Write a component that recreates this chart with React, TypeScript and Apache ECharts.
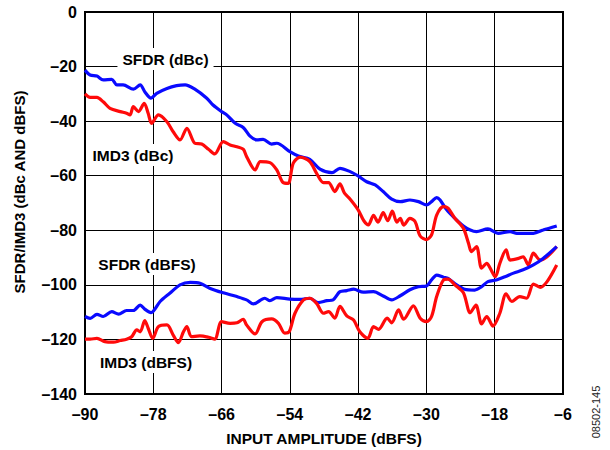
import React, { useEffect, useRef } from "react";
import * as echarts from "echarts";

const xTicks = { min: -90, max: -6, interval: 12 };
const yTicks = { min: -140, max: 0, interval: 20 };

const sfdrDbc: number[][] = [
  [-90, -21.3], [-89.1, -23.1], [-87.9, -23.5], [-86.8, -24.9], [-85.3, -24.7], [-84.4, -26.7], [-83.3, -26.7],
  [-81.5, -28.3], [-80.3, -26.7], [-79.5, -29.2], [-78.4, -31.6], [-77.4, -29.8], [-75.6, -28.0], [-73.9, -27.0],
  [-72.4, -26.7], [-70.7, -28.3], [-68.6, -31.6], [-67.5, -34.1], [-66.0, -36.5], [-65.1, -37.7], [-63.6, -40.8],
  [-62.2, -42.3], [-61.0, -45.5], [-59.8, -46.9], [-58.7, -46.7], [-57.2, -48.4], [-56.3, -48.1], [-54.0, -51.2],
  [-52.5, -52.8], [-50.5, -54.0], [-48.7, -57.6], [-46.6, -58.9], [-45.2, -57.3], [-43.4, -58.5], [-42.0, -60.1],
  [-40.5, -62.2], [-39.0, -63.4], [-37.6, -65.8], [-36.1, -68.6], [-34.6, -69.5], [-32.9, -68.9], [-31.4, -69.5],
  [-30.0, -70.7], [-29.1, -69.5], [-28.2, -68.0], [-27.6, -68.9], [-26.4, -72.6], [-25.0, -75.6], [-23.5, -78.4],
  [-22.3, -79.9], [-21.2, -80.5], [-19.2, -79.5], [-17.4, -81.1], [-15.3, -80.5], [-14.1, -81.1], [-11.2, -81.1],
  [-9.5, -79.9], [-7.1, -78.4],
];

const imd3Dbc: number[][] = [
  [-90, -30.0], [-89.1, -31.3], [-87.9, -31.3], [-86.8, -32.9], [-85.6, -35.3], [-83.8, -36.5], [-82.7, -37.1],
  [-82.1, -37.7], [-81.5, -34.7], [-80.6, -36.5], [-79.6, -33.5], [-78.9, -37.1], [-78.3, -40.8], [-77.1, -37.7],
  [-75.6, -40.2], [-74.5, -43.9], [-73.3, -46.9], [-72.1, -42.6], [-70.7, -48.1], [-69.5, -48.4], [-68.3, -50.3],
  [-67.2, -52.0], [-65.7, -47.5], [-64.5, -48.7], [-63.3, -49.4], [-62.2, -50.3], [-61.6, -53.0], [-60.1, -57.9],
  [-59.2, -54.8], [-57.5, -55.2], [-56.3, -57.9], [-55.2, -62.5], [-54.3, -62.8], [-53.4, -55.4], [-52.2, -53.2],
  [-50.5, -54.8], [-49.3, -59.1], [-48.1, -62.5], [-47.2, -62.5], [-46.1, -65.8], [-45.2, -63.0], [-44.4, -66.4],
  [-43.4, -68.6], [-42.0, -72.5], [-41.0, -76.5], [-40.2, -78.0], [-39.3, -74.5], [-38.5, -77.0], [-37.6, -73.5],
  [-36.8, -76.5], [-36.0, -73.0], [-35.2, -77.0], [-34.6, -75.6], [-34.0, -78.1], [-32.9, -75.6], [-32.0, -76.8],
  [-31.1, -82.1], [-30.0, -83.4], [-29.1, -81.7], [-28.2, -74.4], [-27.0, -71.3], [-26.2, -71.9], [-25.0, -75.6],
  [-23.5, -79.3], [-22.6, -84.8], [-22.1, -87.8], [-21.2, -86.0], [-20.3, -93.9], [-19.4, -92.1], [-18.8, -93.9],
  [-17.9, -97.0], [-17.1, -92.1], [-16.0, -87.2], [-15.3, -90.9], [-13.8, -90.3], [-13.0, -89.7], [-12.1, -92.7],
  [-11.2, -88.4], [-10.0, -90.9], [-8.8, -89.7], [-7.1, -86.0],
];

const sfdrDbfs: number[][] = [
  [-90, -111.6], [-89.1, -112.3], [-87.9, -110.8], [-86.8, -111.6], [-85.3, -109.8], [-84.1, -110.7], [-82.7, -109.4],
  [-81.5, -109.4], [-80.3, -107.4], [-79.5, -108.9], [-78.4, -110.2], [-76.8, -106.1], [-75.1, -103.1], [-73.3, -100.0],
  [-71.5, -99.1], [-69.8, -99.4], [-68.0, -101.3], [-65.7, -102.9], [-63.3, -104.3], [-61.6, -105.5], [-60.4, -107.0],
  [-58.4, -104.9], [-57.5, -105.8], [-56.3, -104.7], [-54.0, -105.2], [-52.2, -105.3], [-50.5, -104.9], [-49.0, -106.5],
  [-47.5, -105.8], [-46.4, -105.5], [-45.2, -102.5], [-44.0, -102.1], [-42.8, -101.6], [-41.1, -102.7], [-39.3, -102.5],
  [-37.6, -104.1], [-36.1, -105.5], [-34.6, -104.0], [-32.9, -101.8], [-31.4, -100.7], [-30.0, -100.4], [-29.1, -98.2],
  [-28.2, -96.4], [-27.0, -97.2], [-26.2, -97.6], [-24.7, -100.0], [-23.3, -101.6], [-21.5, -101.9], [-20.3, -100.7],
  [-19.2, -98.8], [-17.7, -98.2], [-16.2, -97.0], [-14.7, -95.7], [-13.0, -94.5], [-11.2, -92.7], [-9.5, -90.3],
  [-7.1, -86.0],
];

const imd3Dbfs: number[][] = [
  [-90, -119.9], [-89.1, -119.9], [-87.9, -119.6], [-86.5, -120.8], [-85.0, -121.0], [-83.8, -120.4], [-82.7, -119.9],
  [-81.8, -119.0], [-80.9, -116.5], [-80.3, -117.2], [-79.5, -113.1], [-78.9, -115.9], [-78.1, -119.6], [-77.1, -115.3],
  [-75.6, -114.7], [-74.5, -118.4], [-73.6, -121.2], [-72.7, -117.2], [-72.1, -115.3], [-71.3, -119.0], [-69.8, -118.7],
  [-68.3, -119.2], [-67.2, -119.9], [-66.0, -113.5], [-64.5, -114.1], [-63.3, -113.9], [-62.2, -112.6], [-61.6, -114.7],
  [-60.1, -118.0], [-58.9, -113.5], [-57.2, -112.5], [-56.0, -114.1], [-54.9, -117.7], [-54.1, -117.1], [-53.1, -110.4],
  [-51.6, -105.5], [-50.5, -104.9], [-49.3, -106.8], [-48.1, -110.4], [-47.2, -109.8], [-46.1, -112.2], [-45.2, -107.9],
  [-44.0, -111.4], [-42.8, -112.9], [-41.7, -117.2], [-40.3, -119.6], [-39.3, -115.3], [-38.4, -116.3], [-36.9, -112.2],
  [-36.1, -113.9], [-34.9, -109.2], [-34.0, -112.6], [-32.3, -107.7], [-31.1, -112.2], [-30.0, -113.5], [-29.1, -111.6],
  [-28.2, -104.3], [-27.0, -98.2], [-26.2, -97.9], [-25.0, -100.0], [-23.5, -102.9], [-22.3, -110.2], [-21.3, -107.4],
  [-20.3, -114.3], [-19.4, -111.6], [-18.3, -115.1], [-17.1, -110.4], [-16.0, -103.3], [-15.0, -106.1], [-13.6, -104.3],
  [-12.4, -104.9], [-11.2, -99.7], [-10.0, -100.9], [-8.8, -98.8], [-7.1, -92.7],
];

const seriesNames = ["SFDR (dBc)", "IMD3 (dBc)", "SFDR (dBFS)", "IMD3 (dBFS)"];
const xTitle = "INPUT AMPLITUDE (dBFS)";
const yTitle = "SFDR/IMD3 (dBc AND dBFS)";
const figId = "08502-145";

const FONT = '"Liberation Sans", Arial, Helvetica, sans-serif';
const BLUE = "#0a0aff";
const RED = "#ff0a0a";

export default function App() {
  const ref = useRef<HTMLDivElement>(null);
  useEffect(() => {
    if (!ref.current) return;
    const chart = echarts.init(ref.current, null, { renderer: "svg" });
    const fmt = (v: number) => String(v).replace("-", "\u2013");
    const label = (text: string, x: number, y: number) => ({
      type: "text",
      x,
      y,
      z: 100,
      style: {
        text,
        x: 0,
        y: 0,
        align: "center",
        verticalAlign: "middle",
        font: `bold 15.5px ${FONT}`,
        fill: "#000",
        backgroundColor: "#fff",
        padding: [3, 5],
      },
    });
    const mk = (name: string, data: number[][], color: string) => ({
      name,
      type: "line",
      data,
      smooth: 0.3,
      showSymbol: false,
      symbol: "none",
      lineStyle: { color, width: 3.2 },
      z: 3,
    });
    chart.setOption({
      animation: false,
      grid: {
        left: 85,
        top: 12,
        right: 47,
        bottom: 56,
        show: true,
        borderColor: "#000",
        borderWidth: 2,
        backgroundColor: "transparent",
      },
      xAxis: {
        type: "value",
        min: xTicks.min,
        max: xTicks.max,
        interval: xTicks.interval,
        axisLine: { show: true, lineStyle: { color: "#000", width: 2 } },
        axisTick: { show: false },
        splitLine: { show: true, lineStyle: { color: "#000", width: 1 } },
        axisLabel: {
          formatter: fmt,
          color: "#000",
          fontFamily: FONT,
          fontWeight: "bold",
          fontSize: 16,
          margin: 12,
        },
      },
      yAxis: {
        type: "value",
        min: yTicks.min,
        max: yTicks.max,
        interval: yTicks.interval,
        axisLine: { show: true, lineStyle: { color: "#000", width: 2 } },
        axisTick: { show: false },
        splitLine: { show: true, lineStyle: { color: "#000", width: 1 } },
        axisLabel: {
          formatter: fmt,
          color: "#000",
          fontFamily: FONT,
          fontWeight: "bold",
          fontSize: 16,
          margin: 8,
        },
      },
      series: [
        mk(seriesNames[0], sfdrDbc, BLUE),
        mk(seriesNames[1], imd3Dbc, RED),
        mk(seriesNames[2], sfdrDbfs, BLUE),
        mk(seriesNames[3], imd3Dbfs, RED),
      ],
      graphic: [
        label(seriesNames[0], 165.5, 59),
        label(seriesNames[1], 133, 155),
        label(seriesNames[2], 147, 264),
        label(seriesNames[3], 146, 362),
        {
          type: "text",
          x: 324,
          y: 438,
          style: {
            text: xTitle,
            align: "center",
            verticalAlign: "middle",
            font: `bold 15.5px ${FONT}`,
            fill: "#000",
          },
        },
        {
          type: "text",
          x: 19,
          y: 192,
          rotation: Math.PI / 2,
          style: {
            text: yTitle,
            align: "center",
            verticalAlign: "middle",
            font: `bold 15px ${FONT}`,
            fill: "#000",
          },
        },
        {
          type: "text",
          x: 596,
          y: 412,
          rotation: Math.PI / 2,
          style: {
            text: figId,
            align: "center",
            verticalAlign: "middle",
            font: `11px ${FONT}`,
            fill: "#222",
          },
        },
      ],
    });
    return () => chart.dispose();
  }, []);
  return (
    <div
      ref={ref}
      style={{ position: "absolute", left: 0, top: 0, width: 610, height: 450, background: "#fff" }}
    />
  );
}
